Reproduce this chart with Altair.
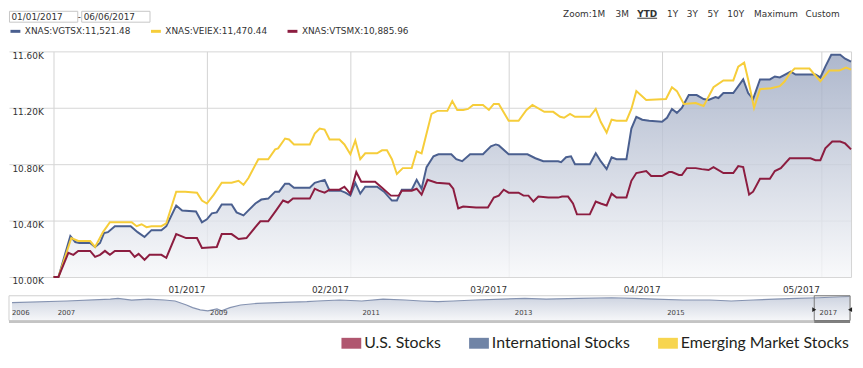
import json
import altair as alt
import pandas as pd

# ---------------- data ----------------
date_range = ["01/01/2017", "06/06/2017"]
zoom_buttons = ["Zoom:1M", "3M", "YTD", "1Y", "3Y", "5Y", "10Y", "Maximum", "Custom"]
selected_zoom = "YTD"

tickers = ["XNAS:VGTSX:11,521.48", "XNAS:VEIEX:11,470.44", "XNAS:VTSMX:10,885.96"]
line_colors = ["#4a5f8f", "#f6cd3a", "#8c1d40"]

# (trading-day position, value in thousands)
vgtsx = [
    (0, 10.00), (1, 10.00), (3.4, 10.29), (4.4, 10.248), (5.2, 10.241), (7.4, 10.241),
    (8.4, 10.213), (9.4, 10.241), (10.2, 10.311), (11, 10.318), (12.4, 10.36), (15.6, 10.36),
    (17, 10.318), (18.4, 10.283), (19.8, 10.332), (21.8, 10.332), (22.8, 10.36), (24.8, 10.507),
    (26, 10.472), (28.8, 10.465), (30, 10.388), (31, 10.409), (32, 10.451), (33, 10.458),
    (34, 10.514), (36, 10.514), (37, 10.458), (38.4, 10.437), (39.4, 10.472), (40.8, 10.521),
    (42, 10.549), (43.4, 10.556), (44.8, 10.605), (45.6, 10.605), (46.8, 10.661), (47.6, 10.661),
    (48.6, 10.633), (51.8, 10.633), (52.8, 10.668), (54.8, 10.689), (55.8, 10.612), (58, 10.612),
    (59, 10.598), (60, 10.577), (61, 10.668), (62, 10.591), (63, 10.64), (65.4, 10.64),
    (66.8, 10.605), (68.4, 10.542), (69.4, 10.542), (70.4, 10.619), (72.4, 10.619), (73.4, 10.689),
    (74.4, 10.626), (75.4, 10.779), (76.8, 10.856), (77.8, 10.87), (80.4, 10.87), (81.4, 10.835),
    (82.6, 10.821), (84.2, 10.87), (86.8, 10.87), (88.4, 10.926), (89.4, 10.94), (90, 10.933),
    (92, 10.87), (95.8, 10.87), (97.4, 10.842), (99, 10.821), (102, 10.821), (102.6, 10.814),
    (103.6, 10.849), (104.6, 10.856), (105.4, 10.80), (108.4, 10.80), (109.6, 10.877), (110.6, 10.821),
    (111.8, 10.765), (112.8, 10.849), (113.8, 10.835), (115.8, 10.835), (116.8, 11.052), (117.8, 11.136),
    (119, 11.115), (120.4, 11.108), (123, 11.101), (124, 11.129), (125, 11.192), (126, 11.164),
    (127, 11.199), (128.4, 11.29), (130, 11.29), (131.4, 11.262), (132.4, 11.255), (133.8, 11.276),
    (134.4, 11.269), (135.4, 11.304), (137.4, 11.304), (139.4, 11.401), (140.4, 11.304), (141.4, 11.262),
    (142.8, 11.401), (144.8, 11.401), (145.8, 11.422), (146.8, 11.415), (149, 11.457), (150, 11.436),
    (154, 11.436), (155, 11.415), (156, 11.492), (157.2, 11.576), (159, 11.576), (160, 11.548),
    (161.2, 11.527),
]
veiex = [
    (0, 10.00), (1, 10.00), (3.6, 10.276), (5, 10.255), (7.4, 10.255), (8.4, 10.213),
    (10, 10.318), (11.4, 10.388), (15.8, 10.388), (16.8, 10.36), (17.8, 10.374), (18.8, 10.353),
    (19.8, 10.36), (21.8, 10.36), (22.8, 10.381), (24.8, 10.605), (26.6, 10.605), (29, 10.598),
    (30, 10.542), (31, 10.521), (32.4, 10.584), (34, 10.668), (36, 10.668), (37.4, 10.682),
    (38.4, 10.654), (39.4, 10.702), (41.4, 10.835), (43.4, 10.835), (44.8, 10.905), (45.4, 10.912),
    (46.8, 10.982), (47.6, 10.975), (48.6, 10.94), (51.8, 10.94), (52.8, 11.017), (53.8, 11.052),
    (54.8, 11.045), (55.8, 10.975), (57.8, 10.975), (58.8, 10.94), (60, 10.87), (61, 10.968),
    (62, 10.835), (63, 10.877), (65.4, 10.877), (66.4, 10.898), (67.4, 10.898), (68.4, 10.835),
    (69.4, 10.73), (70.6, 10.772), (72.4, 10.772), (73.4, 10.891), (74.4, 10.877), (76.4, 11.157),
    (77.6, 11.178), (79.6, 11.178), (80.6, 11.248), (81.6, 11.185), (82.8, 11.185), (83.8, 11.192),
    (84.8, 11.22), (86.8, 11.22), (88, 11.185), (89, 11.227), (90, 11.227), (92, 11.108),
    (94, 11.108), (95.6, 11.185), (96.8, 11.22), (99.2, 11.171), (101, 11.171), (102.4, 11.136),
    (103.2, 11.129), (104.4, 11.157), (105.4, 11.136), (108.4, 11.136), (109.6, 11.192), (110.6, 11.101),
    (111.8, 11.024), (112.8, 11.115), (113.8, 11.108), (115.8, 11.108), (116.8, 11.192), (117.8, 11.318),
    (119.8, 11.255), (123.8, 11.262), (125, 11.346), (126, 11.318), (127.4, 11.227), (129.8, 11.234),
    (131.4, 11.213), (133.4, 11.346), (135.4, 11.394), (137.4, 11.394), (138.4, 11.492), (139.6, 11.52),
    (140.4, 11.401), (141.6, 11.199), (142.8, 11.332), (145, 11.339), (146.8, 11.353), (147.8, 11.388),
    (148.8, 11.443), (149.8, 11.478), (152.8, 11.478), (153.8, 11.436), (155, 11.388), (156.8, 11.464),
    (158.8, 11.464), (160.2, 11.485), (161.2, 11.471),
]
vtsmx = [
    (0, 10.00), (1, 10.00), (3, 10.171), (4, 10.157), (5, 10.185), (7.4, 10.185),
    (8.4, 10.143), (9.4, 10.157), (10.4, 10.185), (11.4, 10.157), (12.4, 10.185), (15.4, 10.185),
    (16.4, 10.143), (17.2, 10.164), (18.4, 10.122), (19.4, 10.157), (21.8, 10.157), (22.8, 10.136),
    (24.8, 10.304), (26.8, 10.276), (29, 10.276), (30, 10.206), (33, 10.213), (34, 10.304),
    (36, 10.304), (37.4, 10.269), (39, 10.276), (40.8, 10.353), (41.8, 10.395), (43.4, 10.395),
    (45, 10.472), (46.4, 10.542), (47.4, 10.528), (48.4, 10.556), (51.8, 10.556), (52.8, 10.626),
    (53.6, 10.612), (54.8, 10.598), (55.8, 10.619), (57.8, 10.619), (58.8, 10.64), (60, 10.591),
    (61.2, 10.744), (62.2, 10.675), (65, 10.675), (66.4, 10.633), (68.2, 10.577), (69.8, 10.577),
    (70.4, 10.612), (72.4, 10.612), (73.4, 10.626), (74.4, 10.584), (75.6, 10.689), (77.4, 10.668),
    (80, 10.661), (80.8, 10.626), (81.8, 10.486), (82.8, 10.50), (85.4, 10.493), (87.8, 10.493),
    (89, 10.563), (90, 10.577), (91, 10.619), (92, 10.598), (94, 10.598), (95, 10.577),
    (96, 10.577), (97, 10.535), (98, 10.57), (100, 10.563), (102, 10.563), (102.8, 10.57),
    (104, 10.57), (105, 10.521), (105.8, 10.444), (108.4, 10.444), (109.6, 10.535), (110.6, 10.521),
    (111.8, 10.507), (112.8, 10.591), (113.8, 10.563), (115.8, 10.563), (116.8, 10.682), (117.8, 10.737),
    (119.8, 10.751), (120.8, 10.716), (123, 10.716), (124.4, 10.744), (125, 10.744), (126.4, 10.723),
    (127, 10.723), (128, 10.772), (129.8, 10.772), (131, 10.765), (132.4, 10.758), (133.4, 10.779),
    (135.4, 10.737), (137.4, 10.737), (138.4, 10.786), (139.4, 10.779), (140.6, 10.584), (141.4, 10.605),
    (142.8, 10.696), (144.8, 10.696), (145.8, 10.751), (147, 10.772), (148.8, 10.842), (153, 10.842),
    (154, 10.828), (155, 10.828), (156, 10.912), (157.4, 10.961), (159, 10.961), (160, 10.947),
    (161.2, 10.905),
]

month_ticks = [0, 31, 60, 92, 123, 155.2, 161.2]
month_labels = ["", "01/2017", "02/2017", "03/2017", "04/2017", "05/2017", ""]
value_ticks = [10.0, 10.4, 10.8, 11.2, 11.6]

nav_years = [2006.44, 2007.16, 2007.73, 2007.83, 2008.01, 2008.23, 2008.44, 2008.58, 2008.73, 2008.81,
             2008.91, 2009.01, 2009.13, 2009.19, 2009.30, 2009.44, 2009.66, 2010.01, 2010.31, 2010.45,
             2010.74, 2011.03, 2011.31, 2011.60, 2011.81, 2012.03, 2012.23, 2012.52, 2012.88, 2013.17,
             2013.45, 2013.88, 2014.31, 2014.60, 2014.88, 2015.25, 2015.60, 2015.88, 2016.17, 2016.45,
             2016.74, 2017.03, 2017.32, 2017.44]
nav_values = [18, 19.7, 21.7, 22.3, 20.7, 21.7, 20.7, 19.7, 15.7, 13,
              10.7, 9.7, 11.7, 9.7, 13, 15.7, 17.3, 18.3, 19, 19.7,
              20.7, 19.7, 21.7, 20.7, 19.7, 19, 19.7, 20.7, 21.7, 22.3,
              21.7, 22.3, 23, 22.3, 21.7, 20.7, 20.7, 19.7, 20.7, 21.7,
              22.3, 23, 24, 24.3]
nav_domain = [2006.4, 2017.44]
nav_year_labels = [2006, 2007, 2009, 2011, 2013, 2015, 2017]
nav_window = [2016.97, 2017.44]

legend_categories = ["U.S. Stocks", "International Stocks", "Emerging Market Stocks"]
legend_colors = ["#b0566f", "#7084a6", "#f7d54f"]

# ---------------- layout / style ----------------
W, H = 851, 228
FONT = "DejaVu Sans"
TXT = "#333333"
one = pd.DataFrame({"k": [0]})

rows = []
for ticker, series in zip(tickers, [vgtsx, veiex, vtsmx]):
    for t, v in series:
        rows.append({"ticker": ticker, "t": t, "v": v})
lines_df = pd.DataFrame(rows)

x_scale = alt.Scale(domain=[-9, 161.2], nice=False, zero=False)
y_scale = alt.Scale(domain=[10.0, 11.6], nice=False, zero=False)

label_expr = f"{json.dumps(month_labels)}[indexof({json.dumps(month_ticks)}, datum.value)]"
x_axis = alt.Axis(values=month_ticks, labelExpr=label_expr, title=None, grid=True,
                  gridColor="#d2d2d2", ticks=False, tickSize=0, domain=False,
                  labelAlign="right", labelBaseline="top", labelOffset=-2, labelPadding=9,
                  labelFont=FONT, labelFontSize=9, labelColor=TXT,
                  labelOverlap=False, labelFlush=False, labelBound=False)
y_axis = alt.Axis(values=value_ticks, labelExpr="format(datum.value, '.2f') + 'K'", title=None,
                  grid=True, gridColor="#d6d6d6", ticks=False, tickSize=0, domain=False,
                  labelAlign="left", labelBaseline="top", labelPadding=-3, labelOffset=0,
                  labelFont=FONT, labelFontSize=9, labelColor=TXT,
                  labelOverlap=False, labelFlush=False, labelBound=False)

X = alt.X("t:Q", scale=x_scale, axis=x_axis)
Y = alt.Y("v:Q", scale=y_scale, axis=y_axis)

area = alt.Chart(lines_df).transform_filter(alt.datum.ticker == tickers[0]).mark_area(
    opacity=0.8,
    color=alt.Gradient(gradient="linear",
                       stops=[alt.GradientStop(color="#f7f8fa", offset=0),
                              alt.GradientStop(color="#9aa6c0", offset=1)],
                       x1=1, x2=1, y1=1, y2=0),
).encode(x=X, y=Y, y2=alt.datum(10.0))

color_enc = alt.Color("ticker:N", scale=alt.Scale(domain=tickers, range=line_colors),
                      legend=alt.Legend(title=None, orient="none", legendX=0, legendY=-27,
                                        direction="horizontal", symbolType="stroke",
                                        symbolSize=100, symbolStrokeWidth=3,
                                        labelFont=FONT, labelFontSize=9, labelColor=TXT,
                                        labelOffset=3, columnPadding=14, padding=0,
                                        labelLimit=300))


def line_layer(i):
    return alt.Chart(lines_df).transform_filter(alt.datum.ticker == tickers[i]).mark_line(
        strokeWidth=2).encode(x=X, y=Y, color=color_enc)


legend_layer = alt.Chart(pd.DataFrame({"category": legend_categories})).mark_rect(
    strokeWidth=0).encode(
    x=alt.value(0), x2=alt.value(0), y=alt.value(0), y2=alt.value(0),
    fill=alt.Fill("category:N", scale=alt.Scale(domain=legend_categories, range=legend_colors),
                  legend=alt.Legend(title=None, orient="none", legendX=336, legendY=285,
                                    direction="horizontal", symbolType="M-1,-0.55H1V0.55H-1Z",
                                    symbolSize=400, symbolStrokeWidth=0, symbolOpacity=1,
                                    labelFont="Lato", labelFontSize=16, labelColor="#231f20",
                                    labelOffset=3, columnPadding=28, padding=0, labelLimit=400)),
)


def text_item(text, x, y, **kw):
    style = dict(align="left", baseline="middle", font=FONT, fontSize=9, color=TXT)
    style.update(kw)
    return alt.Chart(pd.DataFrame({"label": [text]})).mark_text(**style).encode(
        x=alt.value(x), y=alt.value(y), text="label:N")


def box(x0, x1, y0, y1):
    return alt.Chart(one).mark_rect(fill="white", stroke="#c6c6c6", strokeWidth=1).encode(
        x=alt.value(x0), x2=alt.value(x1), y=alt.value(y0), y2=alt.value(y1))


header = [
    box(0.5, 69.5, -40.5, -29.5), text_item(date_range[0], 2.5, -35),
    text_item("-", 69.5, -35),
    box(73.5, 142.5, -40.5, -29.5), text_item(date_range[1], 75.5, -35),
]
button_x = [560, 613, 635, 665, 685, 706, 726, 753, 805]
for lab, bx in zip(zoom_buttons, button_x):
    if lab == selected_zoom:
        header.append(text_item(lab, bx, -38, fontWeight="bold"))
        header.append(alt.Chart(one).mark_rule(color=TXT, strokeWidth=1).encode(
            x=alt.value(bx), x2=alt.value(bx + 20), y=alt.value(-33.5)))
    else:
        header.append(text_item(lab, bx, -38))

main = alt.layer(area, line_layer(0), line_layer(1), line_layer(2), legend_layer, *header)

# ---------------- navigator ----------------
nav_df = pd.DataFrame({"year": nav_years, "nav": nav_values})
nav_x_scale = alt.Scale(domain=nav_domain, range=[0, 850], nice=False, zero=False, clamp=True)
nav_y_scale = alt.Scale(domain=[0, 25], range=[272, 247], nice=False, zero=False)
NX = alt.X("year:Q", scale=nav_x_scale, axis=None)
NY = alt.Y("nav:Q", scale=nav_y_scale, axis=None)

nav_area = alt.Chart(nav_df).mark_area(
    color=alt.Gradient(gradient="linear",
                       stops=[alt.GradientStop(color="#f6f7f9", offset=0),
                              alt.GradientStop(color="#cdd3e0", offset=1)],
                       x1=1, x2=1, y1=1, y2=0)).encode(x=NX, y=NY, y2=alt.datum(0))
nav_line = alt.Chart(nav_df).mark_line(color="#8593b1", strokeWidth=1.2).encode(x=NX, y=NY)
nav_frame = alt.Chart(one).mark_rect(fillOpacity=0, stroke="#cfcfcf", strokeWidth=1).encode(
    x=alt.datum(nav_domain[0]), x2=alt.datum(nav_domain[1]), y=alt.datum(0), y2=alt.datum(25))
nav_scroll = alt.Chart(one).mark_rect(color="#c4c4c4").encode(
    x=alt.datum(nav_domain[0]), x2=alt.datum(nav_domain[1]), y=alt.datum(-2.5), y2=alt.datum(0))
nav_scroll_sel = alt.Chart(one).mark_rect(color="#808080").encode(
    x=alt.datum(nav_window[0]), x2=alt.datum(nav_window[1]), y=alt.datum(-2.5), y2=alt.datum(0))
nav_sel = alt.Chart(one).mark_rect(fillOpacity=0, stroke="#7a7a7a", strokeWidth=1).encode(
    x=alt.datum(nav_window[0]), x2=alt.datum(nav_window[1]), y=alt.datum(0), y2=alt.datum(25))
nav_labels = alt.Chart(pd.DataFrame({"year": nav_year_labels,
                                     "label": [str(y) for y in nav_year_labels]})).mark_text(
    align="left", baseline="middle", dx=3, font=FONT, fontSize=7, color="#444444").encode(
    x=NX, y=alt.datum(8), text="label:N")
handle_l = alt.Chart(one).mark_point(shape="triangle-right", filled=True, size=22,
                                     color="#222222", opacity=1).encode(
    x=alt.datum(nav_window[0]), y=alt.datum(11))
handle_r = alt.Chart(one).mark_point(shape="triangle-left", filled=True, size=22,
                                     color="#222222", opacity=1).encode(
    x=alt.datum(nav_window[1]), y=alt.datum(11))

nav = alt.layer(nav_area, nav_line, nav_labels, nav_frame, nav_scroll, nav_scroll_sel,
                nav_sel, handle_l, handle_r)

chart = alt.layer(main, nav).resolve_scale(x="independent", y="independent").properties(
    width=W, height=H, padding=0, background="white"
).configure_view(stroke=None)

chart.save("out.html", embed_options={"renderer": "svg", "actions": False})
